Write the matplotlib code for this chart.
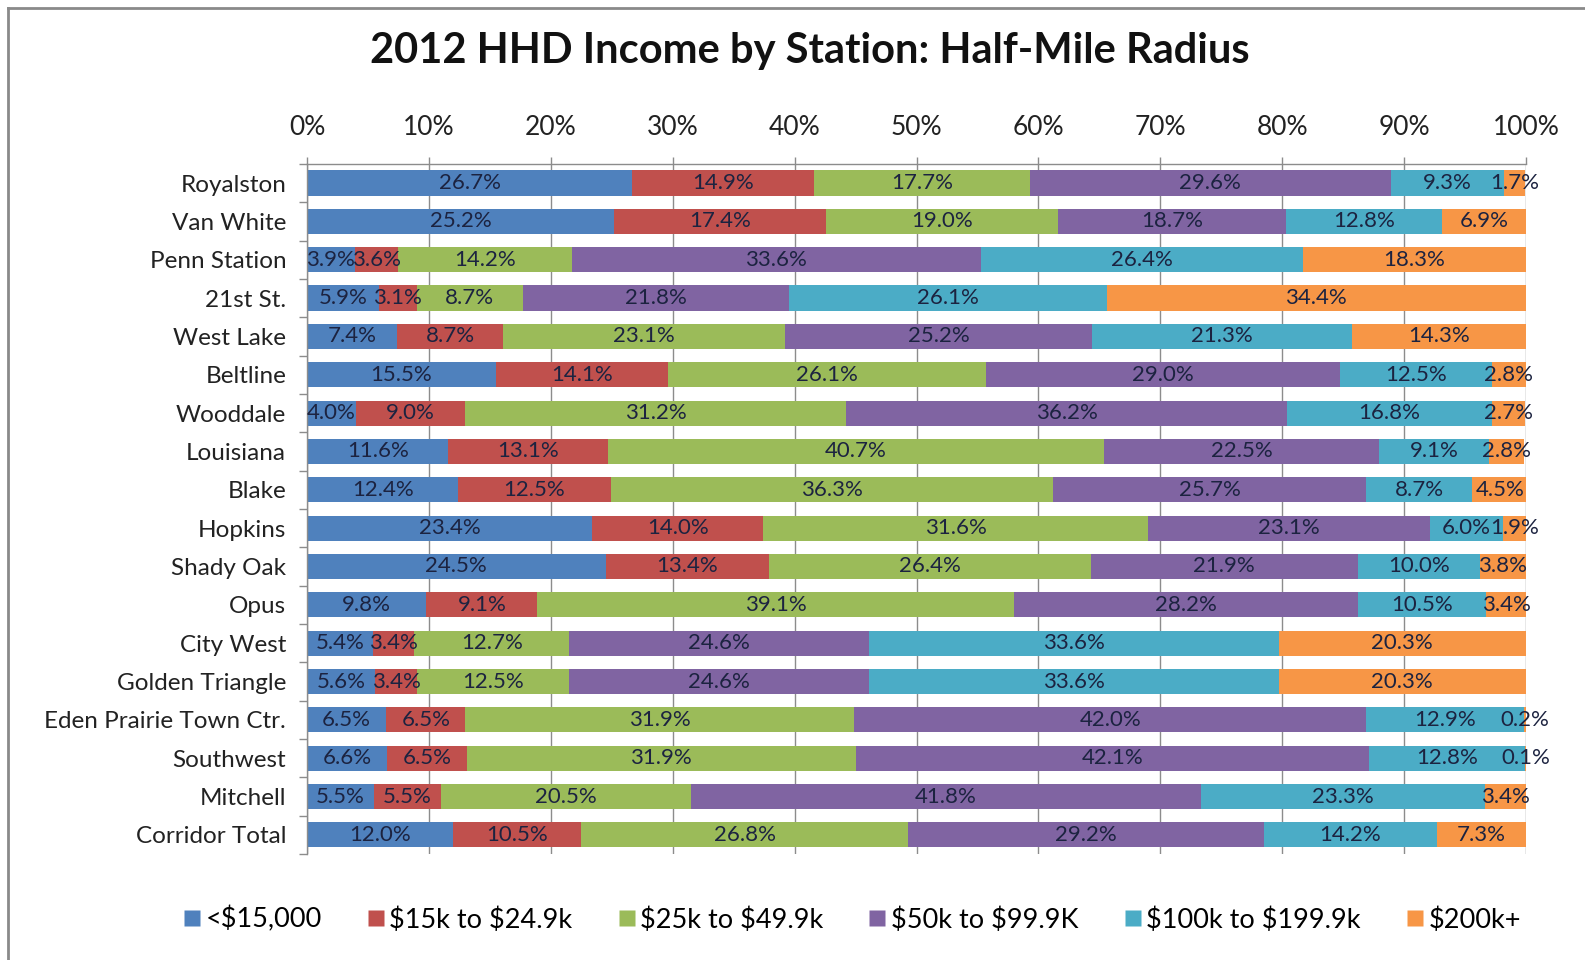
import matplotlib
matplotlib.use("Agg")
import matplotlib.pyplot as plt
from matplotlib.lines import Line2D
import numpy as np

plt.rcParams['font.family'] = ['Lato', 'DejaVu Sans']

stations = [
    "Royalston", "Van White", "Penn Station", "21st St.", "West Lake",
    "Beltline", "Wooddale", "Louisiana", "Blake", "Hopkins", "Shady Oak",
    "Opus", "City West", "Golden Triangle", "Eden Prairie Town Ctr.",
    "Southwest", "Mitchell", "Corridor Total",
]

brackets = ["<$15,000", "$15k to $24.9k", "$25k to $49.9k",
            "$50k to $99.9K", "$100k to $199.9k", "$200k+"]

under_15k = [26.7, 25.2, 3.9, 5.9, 7.4, 15.5, 4.0, 11.6, 12.4, 23.4, 24.5,
             9.8, 5.4, 5.6, 6.5, 6.6, 5.5, 12.0]
k15_25 = [14.9, 17.4, 3.6, 3.1, 8.7, 14.1, 9.0, 13.1, 12.5, 14.0, 13.4,
          9.1, 3.4, 3.4, 6.5, 6.5, 5.5, 10.5]
k25_50 = [17.7, 19.0, 14.2, 8.7, 23.1, 26.1, 31.2, 40.7, 36.3, 31.6, 26.4,
          39.1, 12.7, 12.5, 31.9, 31.9, 20.5, 26.8]
k50_100 = [29.6, 18.7, 33.6, 21.8, 25.2, 29.0, 36.2, 22.5, 25.7, 23.1, 21.9,
           28.2, 24.6, 24.6, 42.0, 42.1, 41.8, 29.2]
k100_200 = [9.3, 12.8, 26.4, 26.1, 21.3, 12.5, 16.8, 9.1, 8.7, 6.0, 10.0,
            10.5, 33.6, 33.6, 12.9, 12.8, 23.3, 14.2]
k200_plus = [1.7, 6.9, 18.3, 34.4, 14.3, 2.8, 2.7, 2.8, 4.5, 1.9, 3.8,
             3.4, 20.3, 20.3, 0.2, 0.1, 3.4, 7.3]

tick_labels = ["0%", "10%", "20%", "30%", "40%", "50%",
               "60%", "70%", "80%", "90%", "100%"]

series = [under_15k, k15_25, k25_50, k50_100, k100_200, k200_plus]
colors = ["#4F81BD", "#C0504D", "#9BBB59", "#8064A2", "#4BACC6", "#F79646"]
label_color = "#1c2340"

fig = plt.figure(figsize=(15.85, 9.6), dpi=100)
ax = fig.add_axes([0.1937, 0.1104, 0.7691, 0.7188])

n = len(stations)
y = np.arange(n)
left = np.zeros(n)
for vals, col, name in zip(series, colors, brackets):
    vals = np.array(vals, dtype=float)
    # rows are stacked to 100% so each bar spans the full width
    ax.barh(y, vals / 100.0, left=left, height=0.66, color=col,
            edgecolor='none', zorder=2)
    for yi, (l, v) in enumerate(zip(left, vals)):
        ax.text(l + v / 200.0, yi, f"{v:.1f}%", ha='center', va='center',
                fontsize=16, color=label_color, zorder=3, clip_on=False)
    left = left + vals / 100.0

ax.set_xlim(0, 1)
ax.set_ylim(n - 0.5, -0.5)

# percentage scale along the top
ax.xaxis.set_ticks_position('top')
ax.xaxis.set_label_position('top')
ax.set_xticks(np.linspace(0, 1, 11))
ax.set_xticklabels(tick_labels, fontsize=19, color='#222222')
ax.tick_params(axis='x', which='major', length=5, width=1, color='#8c8c8c',
               pad=12, direction='out')
ax.grid(axis='x', color='#8c8c8c', linewidth=1, zorder=0)
ax.set_axisbelow(True)

# station names, with small separators between rows
ax.set_yticks(y)
ax.set_yticklabels(stations, fontsize=17.5, color='#222222')
ax.set_yticks(np.arange(-0.5, n, 1.0), minor=True)
ax.tick_params(axis='y', which='major', length=0, pad=15)
ax.tick_params(axis='y', which='minor', length=6, width=1, color='#8c8c8c',
               direction='out')

for side in ['right', 'bottom']:
    ax.spines[side].set_visible(False)
for side in ['top', 'left']:
    ax.spines[side].set_color('#8c8c8c')
    ax.spines[side].set_linewidth(1)

fig.text(0.511, 0.947, "2012 HHD Income by Station: Half-Mile Radius",
         ha='center', va='center', fontsize=30, fontweight='bold',
         color='#111111')

handles = [Line2D([0], [0], marker='s', linestyle='none', markersize=11,
                  markerfacecolor=c, markeredgecolor='none') for c in colors]
legend_labels = [b.replace('$', r'\$') for b in brackets]
fig.legend(handles, legend_labels, loc='center', bbox_to_anchor=(0.536, 0.042),
           ncol=6, frameon=False, fontsize=19.5, handletextpad=0.0,
           columnspacing=1.5, handlelength=1.0)

# chart border along the top and left edges
fig.add_artist(Line2D([8 / 1585, 1.0], [1 - 8 / 960, 1 - 8 / 960],
                      transform=fig.transFigure, color='#8a8a8a', linewidth=2))
fig.add_artist(Line2D([8 / 1585, 8 / 1585], [0.0, 1 - 8 / 960],
                      transform=fig.transFigure, color='#8a8a8a', linewidth=2))

fig.savefig("out.png", dpi=100, facecolor='white')
